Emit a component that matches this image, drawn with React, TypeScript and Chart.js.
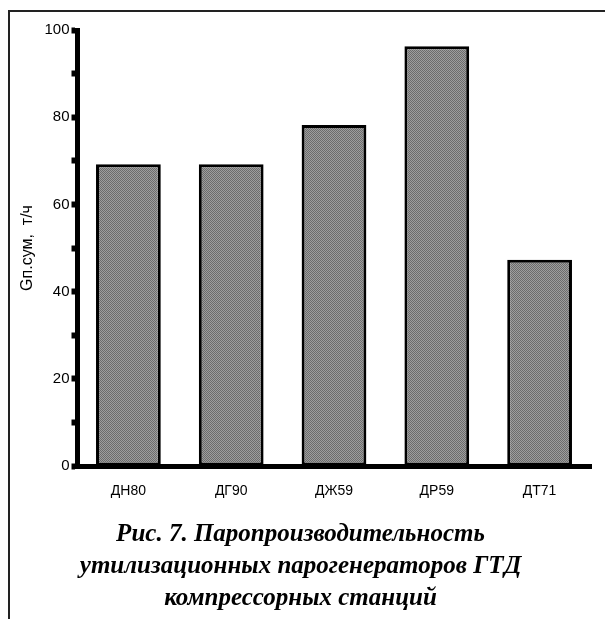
import React, { useEffect, useRef } from "react";
import { Chart, registerables } from "chart.js";

Chart.register(...registerables);

const categories = ["ДН80", "ДГ90", "ДЖ59", "ДР59", "ДТ71"];
const steamOutput = [69.2, 69.2, 78.2, 96.3, 47.3];
const yAxisTitle = "Gп.сум,  т/ч";
const captionLines = [
  "Рис. 7. Паропроизводительность",
  "утилизационных парогенераторов ГТД",
  "компрессорных станций",
];

function makePattern(): CanvasPattern | string {
  const c = document.createElement("canvas");
  c.width = 2;
  c.height = 2;
  const ctx = c.getContext("2d");
  if (!ctx) return "#888";
  ctx.fillStyle = "#9e9e9e";
  ctx.fillRect(0, 0, 2, 2);
  ctx.fillStyle = "#6c6c6c";
  ctx.fillRect(0, 0, 1, 1);
  ctx.fillRect(1, 1, 1, 1);
  const p = ctx.createPattern(c, "repeat");
  return p || "#888";
}

export default function App() {
  const ref = useRef<HTMLCanvasElement>(null);

  useEffect(() => {
    if (!ref.current) return;
    const sans = "'Liberation Sans', Arial, sans-serif";
    const chart = new Chart(ref.current, {
      type: "bar",
      data: {
        labels: categories,
        datasets: [
          {
            data: steamOutput,
            backgroundColor: makePattern() as any,
            borderColor: "#000",
            borderWidth: 3,
            borderSkipped: false,
            barPercentage: 0.63,
            categoryPercentage: 1,
          },
        ],
      },
      options: {
        animation: false,
        responsive: false,
        devicePixelRatio: 1,
        layout: { padding: { left: 0, right: 14, top: 18, bottom: 0 } },
        plugins: {
          legend: { display: false },
          tooltip: { enabled: false },
          title: {
            display: true,
            position: "bottom",
            text: captionLines,
            color: "#000",
            font: {
              family: "'Liberation Serif', 'Times New Roman', serif",
              size: 25,
              weight: "bold",
              style: "italic",
              lineHeight: 32 / 25,
            },
            padding: { top: 0, bottom: 4.5 },
          },
        },
        scales: {
          x: {
            grid: { display: false, drawTicks: false },
            border: { display: true, color: "#000", width: 5 },
            ticks: {
              color: "#000",
              font: { family: sans, size: 14 },
              padding: 17,
              maxRotation: 0,
            },
            afterFit: (scale: any) => {
              scale.height = 52.5;
            },
          },
          y: {
            min: 0,
            max: 100,
            grid: {
              display: true,
              drawOnChartArea: false,
              drawTicks: true,
              tickLength: 5.5,
              tickWidth: 6,
              tickColor: "#000",
            },
            border: { display: true, color: "#000", width: 5 },
            ticks: {
              stepSize: 10,
              color: "#000",
              padding: 2,
              font: { family: sans, size: 15 },
              callback: (v: any) => (Number(v) % 20 === 0 ? String(v) : ""),
            },
            title: {
              display: true,
              text: yAxisTitle,
              color: "#000",
              font: { family: sans, size: 16 },
              padding: { top: 8, bottom: 0 },
            },
            afterFit: (scale: any) => {
              scale.width = 67;
            },
          },
        },
      },
    });
    return () => chart.destroy();
  }, []);

  return (
    <div
      style={{
        position: "fixed",
        left: 8,
        top: 10,
        width: 597,
        height: 609,
        borderTop: "2px solid #222",
        borderLeft: "2px solid #222",
        boxSizing: "border-box",
        background: "#fff",
      }}
    >
      <canvas
        ref={ref}
        width={595}
        height={607}
        style={{ display: "block", width: 595, height: 607 }}
      />
    </div>
  );
}
